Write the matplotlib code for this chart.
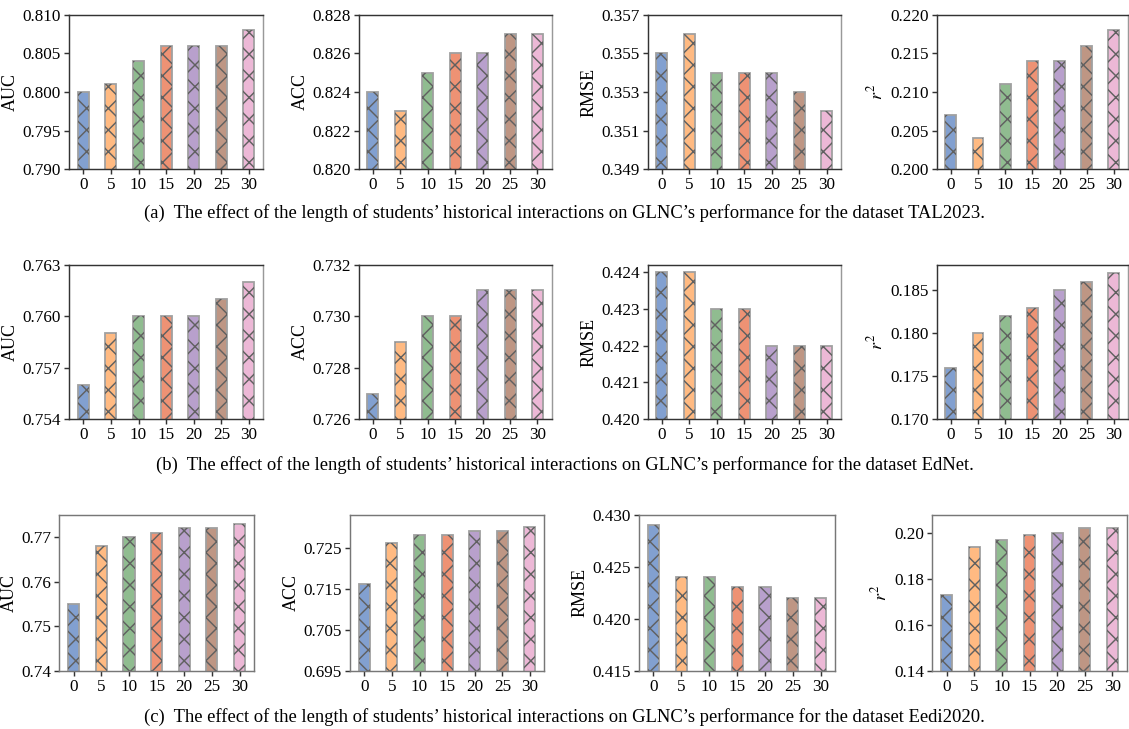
import matplotlib
matplotlib.use('Agg')
import matplotlib.pyplot as plt

plt.rcParams['font.family'] = ['Liberation Serif', 'DejaVu Serif']
plt.rcParams['mathtext.fontset'] = 'stix'
plt.rcParams['hatch.linewidth'] = 0.8

lengths = ['0', '5', '10', '15', '20', '25', '30']
colors = ['#82A0D0', '#FFBA82', '#90BC90', '#EE9274', '#B8A0CC', '#BE9684', '#ECB8D6']
metrics = ['AUC', 'ACC', 'RMSE', r'$r^2$']

# TAL2023
tal_auc = [0.800, 0.801, 0.804, 0.806, 0.806, 0.806, 0.808]
tal_acc = [0.824, 0.823, 0.825, 0.826, 0.826, 0.827, 0.827]
tal_rmse = [0.355, 0.356, 0.354, 0.354, 0.354, 0.353, 0.352]
tal_r2 = [0.207, 0.204, 0.211, 0.214, 0.214, 0.216, 0.218]
# EdNet
ed_auc = [0.756, 0.759, 0.760, 0.760, 0.760, 0.761, 0.762]
ed_acc = [0.727, 0.729, 0.730, 0.730, 0.731, 0.731, 0.731]
ed_rmse = [0.424, 0.424, 0.423, 0.423, 0.422, 0.422, 0.422]
ed_r2 = [0.176, 0.180, 0.182, 0.183, 0.185, 0.186, 0.187]
# Eedi2020
ee_auc = [0.755, 0.768, 0.770, 0.771, 0.772, 0.772, 0.773]
ee_acc = [0.716, 0.726, 0.728, 0.728, 0.729, 0.729, 0.730]
ee_rmse = [0.429, 0.424, 0.424, 0.423, 0.423, 0.422, 0.422]
ee_r2 = [0.173, 0.194, 0.197, 0.199, 0.200, 0.202, 0.202]

rows = [
    [tal_auc, tal_acc, tal_rmse, tal_r2],
    [ed_auc, ed_acc, ed_rmse, ed_r2],
    [ee_auc, ee_acc, ee_rmse, ee_r2],
]
ylims = [
    [(0.790, 0.810), (0.820, 0.828), (0.349, 0.357), (0.200, 0.220)],
    [(0.754, 0.763), (0.726, 0.732), (0.420, 0.4242), (0.170, 0.188)],
    [(0.740, 0.775), (0.695, 0.733), (0.415, 0.430), (0.140, 0.208)],
]
yticks = [
    [[0.790, 0.795, 0.800, 0.805, 0.810], [0.820, 0.822, 0.824, 0.826, 0.828],
     [0.349, 0.351, 0.353, 0.355, 0.357], [0.200, 0.205, 0.210, 0.215, 0.220]],
    [[0.754, 0.757, 0.760, 0.763], [0.726, 0.728, 0.730, 0.732],
     [0.420, 0.421, 0.422, 0.423, 0.424], [0.170, 0.175, 0.180, 0.185]],
    [[0.74, 0.75, 0.76, 0.77], [0.695, 0.705, 0.715, 0.725],
     [0.415, 0.420, 0.425, 0.430], [0.14, 0.16, 0.18, 0.20]],
]
fmts = ['%.3f', '%.3f', '%.3f', '%.3f']
row3_fmts = ['%.2f', '%.3f', '%.3f', '%.2f']
captions = [
    '(a)  The effect of the length of students\u2019 historical interactions on GLNC\u2019s performance for the dataset TAL2023.',
    '(b)  The effect of the length of students\u2019 historical interactions on GLNC\u2019s performance for the dataset EdNet.',
    '(c)  The effect of the length of students\u2019 historical interactions on GLNC\u2019s performance for the dataset Eedi2020.',
]

W, H = 1129.0, 729.0
xs12 = [(69, 263.3), (358.7, 551.7), (647.7, 841), (936.7, 1128)]
xs3 = [(59.3, 254), (350, 544.3), (639, 835.3), (932.3, 1126.7)]
ys = [(14.7, 169.3), (264.7, 419.3), (514.7, 670.7)]
cap_y = [213, 465, 717]

fig = plt.figure(figsize=(W / 130, H / 130), dpi=130)
for r in range(3):
    xs = xs3 if r == 2 else xs12
    for c in range(4):
        x0, x1 = xs[c]
        y0, y1 = ys[r]
        ax = fig.add_axes([x0 / W, 1 - y1 / H, (x1 - x0) / W, (y1 - y0) / H])
        pos = range(len(lengths))
        ax.bar(pos, rows[r][c], width=0.4, color=colors, edgecolor='#a0a0a0', linewidth=1.0)
        ax.bar(pos, rows[r][c], width=0.4, fill=False, hatch='xx', edgecolor='#606060', linewidth=0)
        ax.set_ylim(*ylims[r][c])
        ax.set_yticks(yticks[r][c])
        f = row3_fmts[c] if r == 2 else fmts[c]
        ax.set_yticklabels([f % v for v in yticks[r][c]])
        ax.set_xticks(list(pos))
        ax.set_xticklabels(lengths)
        ax.tick_params(labelsize=9.5, length=3, width=0.8, color='#333333', pad=1.5)
        ax.set_ylabel(metrics[c], fontsize=10, labelpad=2)
        for s in ax.spines.values():
            s.set_linewidth(0.8)
            s.set_color('#777777')
        if r < 2:
            for k in ['top', 'left', 'bottom']:
                ax.spines[k].set_color('#333333')
            ax.spines['right'].set_color('#999999')
    fig.text(0.5, 1 - cap_y[r] / H, captions[r], ha='center', va='center', fontsize=10.3)

fig.savefig('out.png', dpi=130)
